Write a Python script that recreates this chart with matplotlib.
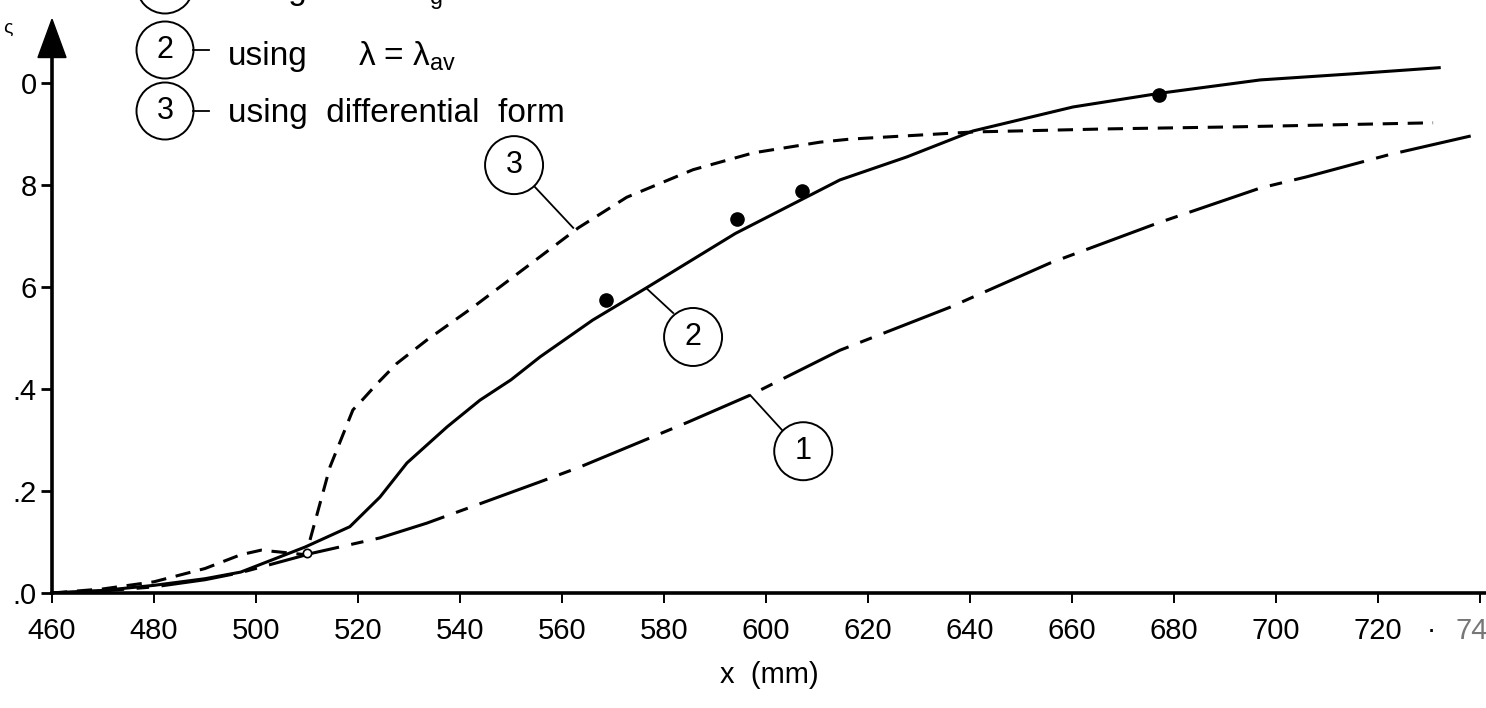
import matplotlib
matplotlib.use("Agg")
from matplotlib import pyplot as plt
from matplotlib.patches import Circle, Polygon
from matplotlib.transforms import ScaledTranslation
from matplotlib.lines import Line2D

plt.rcParams['font.family'] = ['Liberation Sans', 'DejaVu Sans']
plt.rcParams['lines.scale_dashes'] = False

# curve 1 (dash-dot)
x_c1 = [460, 470, 480, 490, 497, 511, 524.3, 533.5, 555.7, 563.5, 584.7, 596.9,
        614.5, 636, 655.7, 676.7, 696.9, 706, 722, 739]
y_c1 = [0, 0.004, 0.012, 0.026, 0.04, 0.078, 0.108, 0.137, 0.218, 0.247, 0.335, 0.388,
        0.476, 0.56, 0.647, 0.725, 0.794, 0.816, 0.859, 0.898]

# curve 2 (solid) : lambda = lambda_av
x_c2 = [460, 470, 480, 490, 497, 509.6, 518.4, 524.3, 529.6, 537.5, 543.9, 550, 555.7,
        566, 576.5, 594, 610.6, 614.5, 627.6, 640.6, 660.2, 677.3, 696.9, 715, 732]
y_c2 = [0, 0.005, 0.015, 0.028, 0.041, 0.09, 0.13, 0.188, 0.255, 0.326, 0.378, 0.418, 0.463,
        0.535, 0.598, 0.705, 0.79, 0.81, 0.855, 0.906, 0.953, 0.98, 1.006, 1.018, 1.03]

# curve 3 (dashed) : differential form
x_c3 = [460, 470, 480, 490, 497, 501, 505, 509.8, 514.5, 519, 520.8, 523.7, 527.6, 533.5,
        542.5, 551.8, 563.2, 572.7, 585.7, 597.5, 610.6, 616.5, 640.6, 666.9, 692, 730.8]
y_c3 = [0, 0.008, 0.022, 0.048, 0.075, 0.084, 0.08, 0.075, 0.247, 0.359, 0.378, 0.41, 0.45,
        0.496, 0.56, 0.63, 0.716, 0.776, 0.83, 0.863, 0.884, 0.89, 0.904, 0.91, 0.914, 0.922]

# measured points
x_pts = [568.6, 594.3, 607, 677]
y_pts = [0.575, 0.733, 0.788, 0.976]

x_ticks = [460, 480, 500, 520, 540, 560, 580, 600, 620, 640, 660, 680, 700, 720, 740]
y_ticks = [0.0, 0.2, 0.4, 0.6, 0.8, 1.0]
y_ticklabels = ['.0', '.2', '.4', '6', '8', '0']

W, H = 1486, 708
fig = plt.figure(figsize=(W / 100, H / 100), dpi=100)
ax = fig.add_axes([52 / W, 115 / H, 1434 / W, 593 / H])
ax.set_xlim(460, 460 + 1434 / 5.1)
ax.set_ylim(0, 593 / 510)

ax.plot(x_c1, y_c1, color='black', lw=2.2, linestyle=(0, (52, 9, 9, 9)))
ax.plot(x_c2, y_c2, color='black', lw=2.2)
ax.plot(x_c3, y_c3, color='black', lw=2.2, linestyle=(0, (11, 7)))
ax.plot(x_pts, y_pts, 'o', color='black', ms=9.5)
ax.plot([510], [0.078], 'o', mfc='white', mec='black', ms=6, mew=1.2)

# axes
for s in ['top', 'right']:
    ax.spines[s].set_visible(False)
ax.spines['left'].set_linewidth(2.6)
ax.spines['bottom'].set_linewidth(2.6)
ax.spines['left'].set_bounds(0, 1.06)
arr = Polygon([(460 - 14 / 5.1, 1.05), (460 + 14 / 5.1, 1.05), (460, 1.125)],
              closed=True, color='black', clip_on=False)
ax.add_patch(arr)

ax.set_xticks(x_ticks)
ax.set_xticklabels([str(v) for v in x_ticks])
ax.get_xticklabels()[-1].set_color('#777777')
ax.set_yticks(y_ticks)
ax.set_yticklabels(y_ticklabels)
ax.tick_params(axis='x', direction='out', length=7, width=1.4, pad=10, labelsize=21)
ax.tick_params(axis='y', direction='out', length=8, width=2, pad=3, labelsize=21)
ax.set_xlabel('x  (mm)', fontsize=21, labelpad=12)
ax.text(730.5, -0.075, '·', fontsize=20, ha='center', va='center')
fig.text(8 / W, 1 - 28 / H, 'ς', fontsize=14, ha='center', va='center')


def num_circle(x, y, label):
    # circle of fixed pixel radius around a data point
    tr = fig.dpi_scale_trans + ScaledTranslation(x, y, ax.transData)
    ax.add_patch(Circle((0, 0), 0.29, transform=tr, fill=False, lw=1.4, clip_on=False))
    ax.text(x, y, label, fontsize=22, ha='center', va='center')


# curve labels with leaders
num_circle(550.6, 0.839, '3')
ax.plot([554.7, 562.2], [0.796, 0.716], color='black', lw=1.3)
num_circle(585.7, 0.502, '2')
ax.plot([576.5, 581.8], [0.598, 0.549], color='black', lw=1.3)
num_circle(607.3, 0.278, '1')
ax.plot([596.9, 603.1], [0.388, 0.32], color='black', lw=1.3)

# key in top left corner (first row is cut by the top edge, as in the scan)
key = [(-15, -1, '1', 'λ = λ$_{\\mathregular{g}}$'),
       (50, 65, '2', 'λ = λ$_{\\mathregular{av}}$'),
       (111, 122, '3', None)]
for cy, base, num, lam in key:
    fig.patches.append(Circle((165 / 100, (H - cy) / 100), 0.285, transform=fig.dpi_scale_trans,
                              fill=False, lw=1.4, color='black'))
    fig.text(165 / W, 1 - cy / H, num, fontsize=22, ha='center', va='center')
    fig.lines.append(Line2D([193 / W, 209 / W], [1 - cy / H, 1 - cy / H],
                            transform=fig.transFigure, color='black', lw=1.3))
    if lam is None:
        fig.text(228 / W, 1 - base / H, 'using  differential  form', fontsize=24, va='baseline')
    else:
        fig.text(228 / W, 1 - base / H, 'using', fontsize=24, va='baseline')
        fig.text(358 / W, 1 - base / H, lam, fontsize=24, va='baseline')

fig.savefig('out.png', dpi=100)
